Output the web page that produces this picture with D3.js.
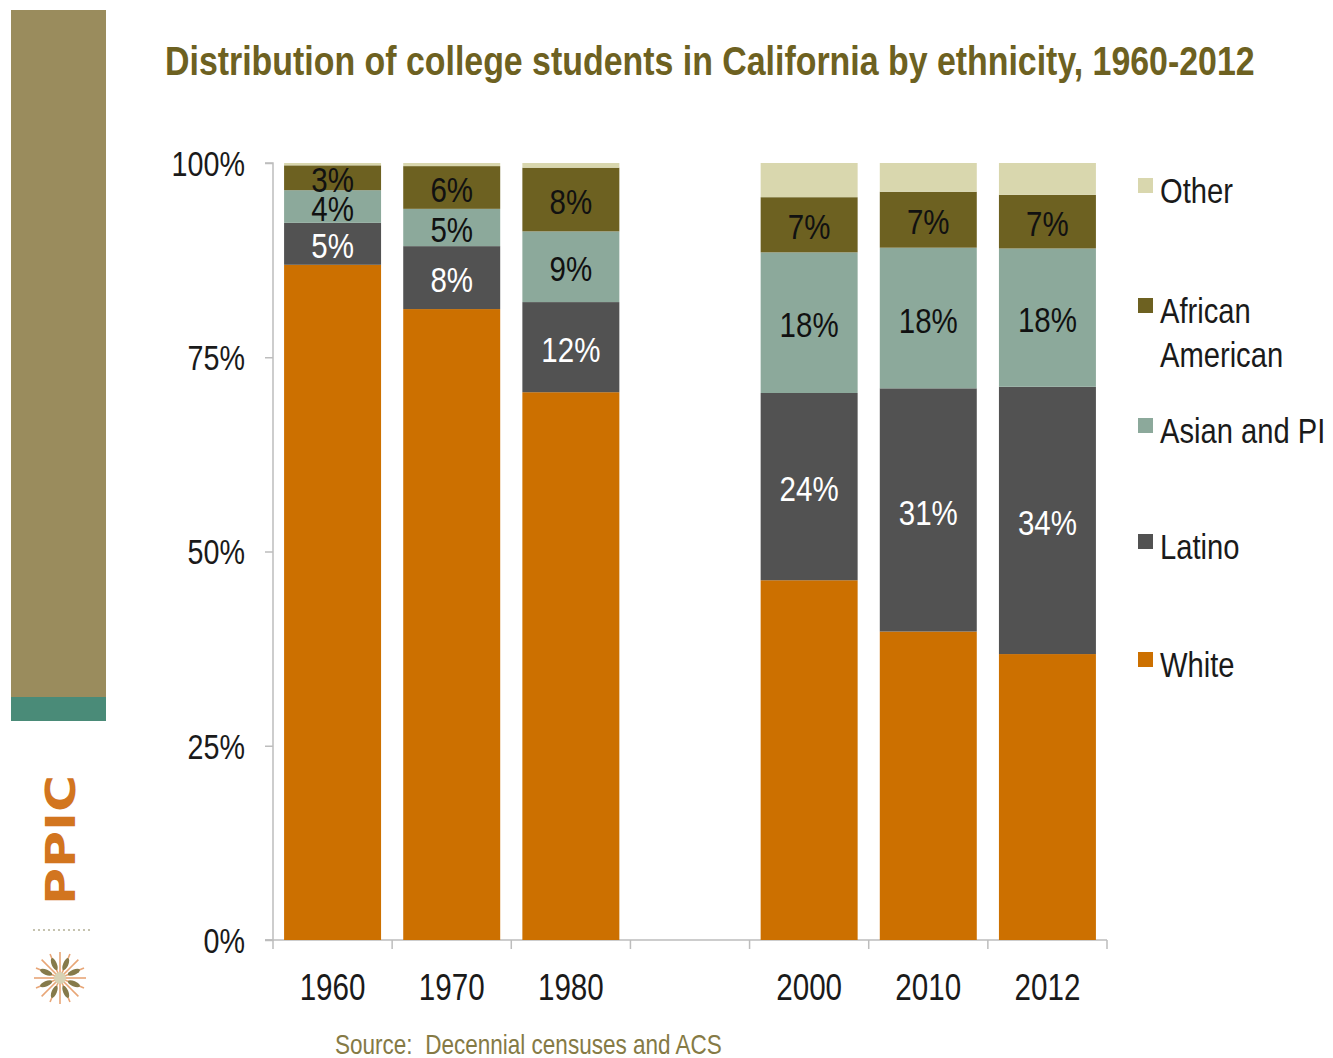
<!DOCTYPE html>
<html><head><meta charset="utf-8">
<script src="https://cdn.jsdelivr.net/npm/d3@7"></script>
<style>
html,body{margin:0;padding:0;background:#fff;}
svg{display:block;}
</style></head>
<body>
<script>
// ---- data ----
const years = ["1960", "1970", "1980", "gap", "2000", "2010", "2012"];
const seriesNames = ["White", "Latino", "Asian and PI", "African American", "Other"];
const white    = [86.9, 81.2, 70.5, null, 46.3, 39.7, 36.8];
const latino   = [5.4, 8.1, 11.6, null, 24.1, 31.3, 34.4];
const asian    = [4.2, 4.8, 9.1, null, 18.1, 18.1, 17.8];
const african  = [3.2, 5.5, 8.2, null, 7.1, 7.2, 6.9];
const other    = [0.3, 0.4, 0.6, null, 4.4, 3.7, 4.1];
const yTicks = [0, 25, 50, 75, 100];
const labelledSeries = ["Latino", "Asian and PI", "African American"];
const legendOrder = ["Other", "African American", "Asian and PI", "Latino", "White"];
const colors = {"White":"#CC7000","Latino":"#525252","Asian and PI":"#8CA99B","African American":"#6D6121","Other":"#D9D7AE"};
const labelColors = {"Latino":"#ffffff","Asian and PI":"#111111","African American":"#111111"};

const W = 1333, H = 1058;
const svg = d3.select("body").append("svg").attr("width", W).attr("height", H);
const FONT = "'Liberation Sans',Arial,sans-serif";

// condense text horizontally about its anchor x
function narrow(sel, s){
  sel.each(function(){
    const t = d3.select(this);
    const ax = +(t.attr("x")||0);
    t.attr("transform", `translate(${ax*(1-s)},0) scale(${s},1)`);
  });
}
// fit text to a target width by horizontal scaling
function fitWidth(sel, w){
  sel.each(function(){
    const len = this.getComputedTextLength();
    d3.select(this).call(narrow, w/len);
  });
}

// ---- sidebar ----
svg.append("rect").attr("x",11).attr("y",10).attr("width",95).attr("height",687).attr("fill","#9A8C5D");
svg.append("rect").attr("x",11).attr("y",697).attr("width",95).attr("height",24).attr("fill","#4A8B78");
const ppic = svg.append("g").attr("transform","translate(75,840) rotate(-90)");
ppic.append("text").attr("x",0).attr("y",0)
  .attr("text-anchor","middle").attr("font-family","'DejaVu Sans',sans-serif").attr("font-weight","bold")
  .attr("font-size",40).attr("fill","#D2751F").text("PPIC").call(fitWidth,130);
const dots = d3.range(34, 90, 5);
svg.selectAll(".dot").data(dots).enter().append("circle").attr("cx",d=>d).attr("cy",930).attr("r",1.1).attr("fill","#B8B49C");
const sun = svg.append("g").attr("transform","translate(60,978)");
d3.range(16).forEach(i=>{
  const a = i*Math.PI/8;
  sun.append("line").attr("x1",0).attr("y1",0).attr("x2",Math.cos(a)*26).attr("y2",Math.sin(a)*26)
    .attr("stroke","#E8A677").attr("stroke-width",1.6);
});
d3.range(8).forEach(i=>{
  const a = (i*45+22.5);
  sun.append("ellipse").attr("cx",0).attr("cy",-15).attr("rx",2.6).attr("ry",6.5)
    .attr("fill","#857A4A").attr("transform",`rotate(${a})`);
});
sun.append("circle").attr("r",6).attr("fill","#D8D2B4");

// ---- title ----
svg.append("text").attr("x",165).attr("y",75).attr("font-family",FONT).attr("font-weight","bold")
  .attr("font-size",40).attr("fill","#6D6121")
  .text("Distribution of college students in California by ethnicity, 1960-2012").call(fitWidth,1090);

// ---- scales ----
const x = d3.scaleBand().domain(years).range([273,1107]).paddingInner(0.186).paddingOuter(0.093);
const y = d3.scaleLinear().domain([0,100]).range([940,163]);

const table = years.map((yr,i)=>({year:yr,"White":white[i],"Latino":latino[i],"Asian and PI":asian[i],"African American":african[i],"Other":other[i]}))
  .filter(d=>d.year!=="gap");
const stack = d3.stack().keys(seriesNames)(table);

// axes
const yAxis = d3.axisLeft(y).tickValues(yTicks).tickSize(8).tickPadding(20).tickFormat(d=>d+"%");
const gy = svg.append("g").attr("transform","translate(273,0)").call(yAxis);
gy.select(".domain").attr("stroke","#BDBDBD").attr("stroke-width",1.5).attr("d","M-8,163H0V940H-8");
gy.selectAll(".tick line").attr("stroke","#BDBDBD").attr("stroke-width",1.5);
gy.selectAll(".tick text").attr("font-family",FONT).attr("font-size",35).attr("fill","#1a1a1a").attr("dy","0.35em").call(narrow,0.82);

const xAxis = d3.axisBottom(x).tickSize(0).tickPadding(34).tickFormat(d=>d==="gap"?"":d);
const gx = svg.append("g").attr("transform","translate(0,940)").call(xAxis);
gx.select(".domain").attr("stroke","#BDBDBD").attr("stroke-width",1.5).attr("d","M265,0H1107");
gx.selectAll(".tick text").attr("font-family",FONT).attr("font-size",37).attr("fill","#1a1a1a").call(narrow,0.8);
// boundary ticks between categories
const bounds = years.map(d=>x(d)-x.step()*x.paddingInner()/2).concat([x(years[years.length-1])+x.bandwidth()+x.step()*x.paddingInner()/2]);
gx.selectAll(".btick").data(bounds).enter().append("line").attr("x1",d=>d).attr("x2",d=>d).attr("y1",0).attr("y2",9)
  .attr("stroke","#BDBDBD").attr("stroke-width",1.5);

// bars
const layers = svg.append("g").selectAll("g").data(stack).enter().append("g").attr("fill",d=>colors[d.key]);
layers.selectAll("rect").data(d=>d).enter().append("rect")
  .attr("x",d=>x(d.data.year)).attr("width",x.bandwidth())
  .attr("y",d=>y(d[1])).attr("height",d=>y(d[0])-y(d[1]));

// labels
stack.filter(s=>labelledSeries.includes(s.key)).forEach(s=>{
  svg.append("g").selectAll("text").data(s).enter().append("text")
    .attr("x",d=>x(d.data.year)+x.bandwidth()/2).attr("y",d=>(y(d[0])+y(d[1]))/2+2)
    .attr("text-anchor","middle").attr("dominant-baseline","central")
    .attr("font-family",FONT).attr("font-size",36).attr("fill",labelColors[s.key])
    .text(d=>Math.round(d[1]-d[0])+"%").call(narrow,0.82);
});

// legend
const legY = {"Other":[190],"African American":[310,354],"Asian and PI":[430],"Latino":[546],"White":[664]};
const legLines = {"Other":["Other"],"African American":["African","American"],"Asian and PI":["Asian and PI"],"Latino":["Latino"],"White":["White"]};
legendOrder.forEach(k=>{
  const ys = legY[k];
  svg.append("rect").attr("x",1138).attr("y",ys[0]-12).attr("width",15).attr("height",15).attr("fill",colors[k]);
  legLines[k].forEach((t,i)=>{
    svg.append("text").attr("x",1160).attr("y",ys[i]).attr("dominant-baseline","central")
      .attr("font-family",FONT).attr("font-size",36).attr("fill","#1a1a1a").text(t).call(narrow,0.81);
  });
});

// source
svg.append("text").attr("x",335).attr("y",1054).attr("font-family",FONT).attr("font-size",27)
  .attr("fill","#857A45").text("Source:\u00a0 Decennial censuses and ACS").call(fitWidth,387);
</script>
</body></html>
